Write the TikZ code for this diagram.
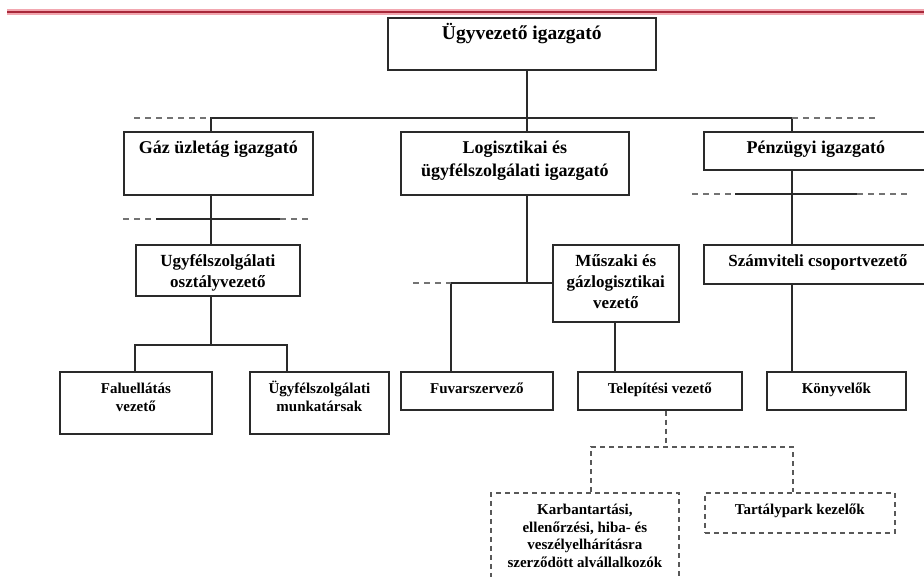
\documentclass[tikz,border=0pt]{standalone}
\usepackage{fontspec}
\setmainfont{Liberation Serif}
\usepackage{tikz}
\usetikzlibrary{calc}

\definecolor{rulered}{HTML}{A8283A}
\definecolor{rulepink}{HTML}{F2A7B0}
\definecolor{boxline}{HTML}{2A2A2A}

% text of a box, set from its top edge
\newcommand{\cellbox}[3]{\parbox[c][#2pt][t]{#1pt}{\centering\rule{0pt}{22pt}#3}}

\begin{document}
\begin{tikzpicture}[x=1pt,y=-1pt,line join=miter,
  unit/.style={draw=boxline,line width=1.7pt,inner sep=0pt,anchor=north west},
  top/.style={font=\bfseries\fontsize{19.5}{23}\selectfont},
  big/.style={font=\bfseries\fontsize{18}{23}\selectfont},
  mid/.style={font=\bfseries\fontsize{17}{21}\selectfont},
  small/.style={font=\bfseries\fontsize{15}{17.5}\selectfont},
  outsourced/.style={draw=black!65,dash pattern=on 5pt off 4pt},
  link/.style={draw=boxline,line width=1.4pt},
  stub/.style={draw=black!55,line width=1.3pt,dash pattern=on 6pt off 5pt},
  dashlink/.style={draw=black!65,line width=1.5pt,dash pattern=on 5pt off 4pt}]
  \useasboundingbox (0,0) rectangle (924,577);
  \fill[white] (0,0) rectangle (924,577);

  % ---- title rule --------------------------------------------------------
  \coordinate (ruleL) at (7,12);
  \coordinate (ruleR) at (924,12);
  \draw[rulepink,line width=6pt] (ruleL) -- (ruleR);
  \draw[rulered,line width=2.6pt] (ruleL) -- (ruleR);

  % ---- boxes -------------------------------------------------------------
  \node[unit,top] (ceo) at (387,17) {\cellbox{268}{52}{Ügyvezető igazgató}};

  \node[unit,big] (gaz) at (123,131) {\cellbox{189}{63}{Gáz üzletág igazgató}};
  \node[unit,big] (log) at (400,131)
       {\cellbox{228}{63}{Logisztikai és\\ügyfélszolgálati igazgató}};
  \node[unit,big] (penz) at (703,131) {\cellbox{224}{38}{Pénzügyi igazgató}};

  \node[unit,mid] (ugyo) at (135,244)
       {\cellbox{164}{51}{Ugyfélszolgálati\\osztályvezető}};
  \node[unit,mid] (musz) at (552,244)
       {\cellbox{126}{77}{Műszaki és\\gázlogisztikai\\vezető}};
  \node[unit,mid] (szam) at (703,244) {\cellbox{228}{39}{Számviteli csoportvezető}};

  \node[unit,small] (falu) at (59,371) {\cellbox{152}{62}{Faluellátás\\vezető}};
  \node[unit,small] (ugym) at (249,371)
       {\cellbox{139}{62}{Ügyfélszolgálati\\munkatársak}};
  \node[unit,small] (fuv) at (400,371) {\cellbox{152}{38}{Fuvarszervező}};
  \node[unit,small] (tel) at (577,371) {\cellbox{164}{38}{Telepítési vezető}};
  \node[unit,small] (konyv) at (766,371) {\cellbox{139}{38}{Könyvelők}};

  % subcontracted units (dashed)
  \node[unit,small,outsourced] (karb) at (490,492)
       {\cellbox{188}{120}{Karbantartási,\\ellenőrzési, hiba- és\\veszélyelhárításra\\szerződött alvállalkozók}};
  \node[unit,small,outsourced] (tart) at (704,492)
       {\cellbox{190}{40}{Tartálypark kezelők}};

  % ---- columns and junctions ---------------------------------------------
  \coordinate (colA) at (211,118);   % gas branch
  \coordinate (colB) at (527,118);   % main spine
  \coordinate (colC) at (792,118);   % finance branch
  \coordinate (busLs) at (134,118);
  \coordinate (busRs) at (875,118);

  \coordinate (forkL) at (135,345);
  \coordinate (forkR) at (287,345);
  \coordinate (logJ) at (451,283);
  \coordinate (logJs) at (413,283);
  \coordinate (colM) at (615,345);
  \coordinate (telJ) at (666,447);
  \coordinate (subL) at (591,447);
  \coordinate (subR) at (793,447);

  % ---- connectors --------------------------------------------------------
  \draw[link] (ceo.south -| colB) -- (log.north -| colB);
  \draw[link] (gaz.north -| colA) -- (colA) -- (colC) -- (penz.north -| colC);
  \draw[stub] (busLs) -- (colA);
  \draw[stub] (colC) -- (busRs);

  % gas branch
  \draw[link] (gaz.south -| colA) -- (ugyo.north -| colA);
  \coordinate (gx1) at (123,219);
  \coordinate (gx2) at (156,219);
  \coordinate (gx3) at (280,219);
  \coordinate (gx4) at (312,219);
  \draw[stub] (gx1) -- (gx2);
  \draw[link] (gx2) -- (gx3);
  \draw[stub] (gx3) -- (gx4);
  \draw[link] (ugyo.south -| colA) -- (colA |- forkL);
  \draw[link] (falu.north -| forkL) -- (forkL) -- (forkR) -- (ugym.north -| forkR);

  % logistics branch
  \draw[link] (log.south -| colB) -- (colB |- logJ);
  \draw[link] (fuv.north -| logJ) -- (logJ) -- (musz.west |- logJ);
  \draw[stub] (logJs) -- (logJ);
  \draw[link] (musz.south -| colM) -- (tel.north -| colM);
  \draw[dashlink] (tel.south -| telJ) -- (telJ);
  \draw[dashlink] (karb.north -| subL) -- (subL) -- (subR) -- (tart.north -| subR);

  % finance branch
  \draw[link] (penz.south -| colC) -- (szam.north -| colC);
  \coordinate (px1) at (692,194);
  \coordinate (px2) at (735,194);
  \coordinate (px3) at (857,194);
  \coordinate (px4) at (907,194);
  \draw[stub] (px1) -- (px2);
  \draw[link] (px2) -- (px3);
  \draw[stub] (px3) -- (px4);
  \draw[link] (szam.south -| colC) -- (konyv.north -| colC);
\end{tikzpicture}
\end{document}
